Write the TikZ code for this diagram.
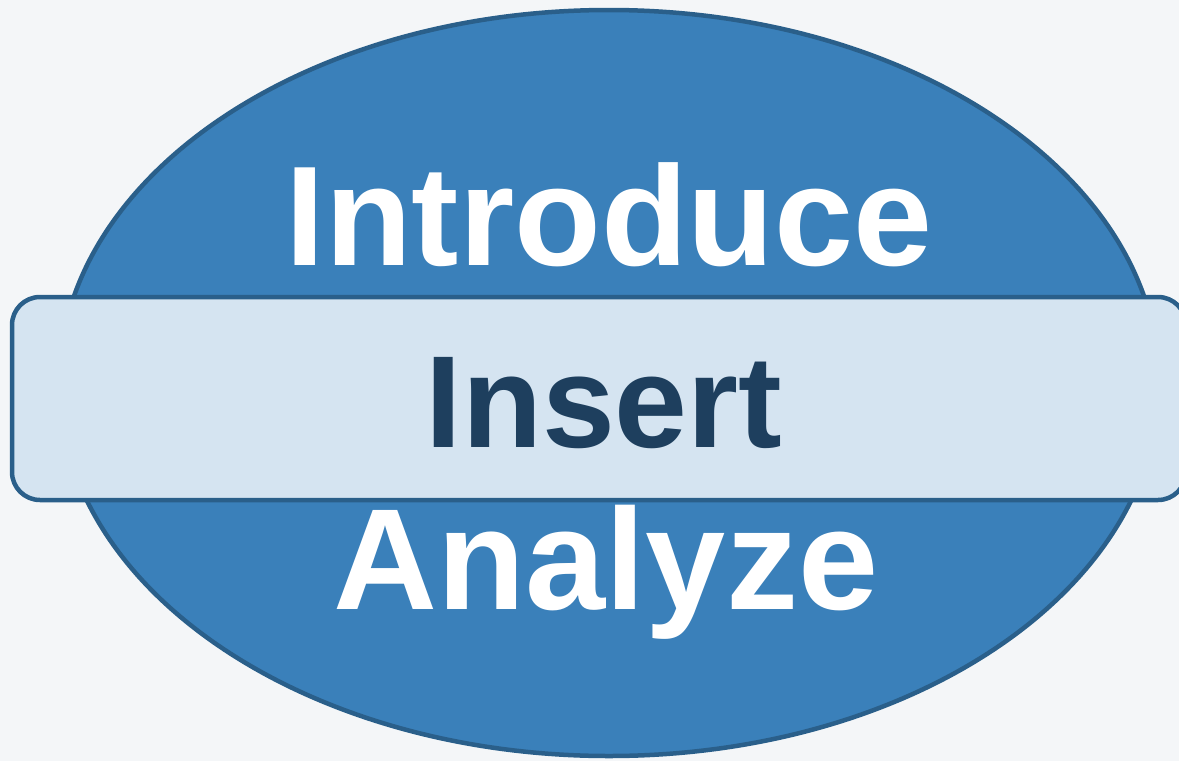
\documentclass[tikz,border=0pt]{standalone}
\usepackage{fontspec}
\setmainfont{Liberation Sans}
\usetikzlibrary{shapes.geometric}
\definecolor{bgc}{HTML}{F4F6F8}
\definecolor{ellfill}{HTML}{3A80BA}
\definecolor{ellline}{HTML}{2A5F8A}
\definecolor{barfill}{HTML}{D5E4F1}
\definecolor{bartext}{HTML}{1E3F5E}
\tikzset{
  outer/.style={ellipse, draw=ellline, fill=ellfill, line width=4.5pt, inner sep=0pt, minimum width=1100pt, minimum height=746pt},
  bar/.style={rectangle, draw=ellline, fill=barfill, line width=4.5pt, rounded corners=28pt, inner sep=0pt, minimum width=1174pt, minimum height=203pt},
  bigtxt/.style={anchor=base, inner sep=0pt, font=\bfseries\fontsize{142}{160}\selectfont, text=white},
  bartxt/.style={anchor=base, inner sep=0pt, font=\bfseries\fontsize{131}{150}\selectfont, text=bartext}
}
\begin{document}
\begin{tikzpicture}[x=1pt,y=-1pt]
\fill[bgc] (0,0) rectangle (1179,761);
\useasboundingbox (0,0) rectangle (1179,761);
\node[outer] (oval) at (609,383) {};
\node[bar] (band) at (599,398.5) {};
\node[bigtxt] (intro) at (609,265) {Introduce};
\node[bartxt] (insert) at (604,447) {Insert};
\node[bigtxt, font=\bfseries\fontsize{144}{160}\selectfont] (analyze) at (606,609) {Analyze};
\end{tikzpicture}
\end{document}
